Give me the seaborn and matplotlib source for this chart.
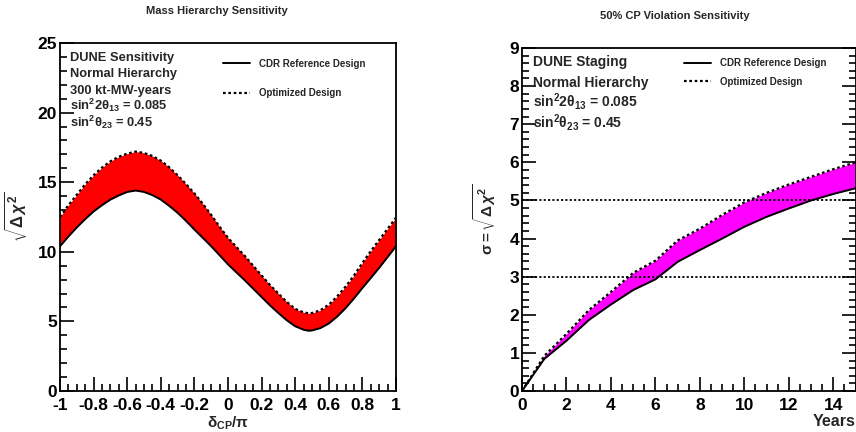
import numpy as np
import pandas as pd
import matplotlib
matplotlib.use("Agg")
import matplotlib.pyplot as plt
from matplotlib.ticker import MultipleLocator
import seaborn as sns

# ---------------- data ----------------
dcp = [-1.0, -0.95, -0.9, -0.85, -0.8, -0.75, -0.7, -0.65, -0.6, -0.55, -0.5, -0.45,
       -0.4, -0.35, -0.3, -0.25, -0.2, -0.15, -0.1, -0.05, 0.0, 0.05, 0.1, 0.15,
       0.2, 0.25, 0.3, 0.35, 0.4, 0.45, 0.48, 0.5, 0.55, 0.6, 0.65, 0.7, 0.75,
       0.8, 0.85, 0.9, 0.95, 1.0]
mh_cdr = [10.4, 11.1, 11.75, 12.35, 12.9, 13.35, 13.75, 14.05, 14.3, 14.4, 14.3, 14.07,
          13.75, 13.3, 12.8, 12.22, 11.6, 11.0, 10.4, 9.75, 9.1, 8.52, 7.95, 7.35,
          6.75, 6.15, 5.6, 5.08, 4.65, 4.4, 4.33, 4.35, 4.52, 4.85, 5.35, 5.95, 6.65,
          7.4, 8.12, 8.85, 9.62, 10.4]
mh_opt = [12.5, 13.35, 14.1, 14.85, 15.5, 16.05, 16.5, 16.83, 17.05, 17.2, 17.1, 16.88,
          16.55, 16.07, 15.5, 14.87, 14.2, 13.45, 12.65, 11.8, 11.0, 10.35, 9.7, 9.0,
          8.3, 7.62, 7.0, 6.4, 5.9, 5.65, 5.58, 5.6, 5.8, 6.2, 6.8, 7.5, 8.3,
          9.2, 10.05, 10.85, 11.65, 12.45]

years = [0, 1, 2, 3, 4, 5, 6, 7, 8, 9, 10, 11, 12, 13, 14, 15]
cp_cdr = [0.0, 0.84, 1.32, 1.86, 2.27, 2.65, 2.93, 3.39, 3.70, 4.0, 4.31, 4.57, 4.79, 5.0, 5.17, 5.32]
cp_opt = [0.0, 0.92, 1.5, 2.12, 2.6, 3.1, 3.42, 3.95, 4.26, 4.62, 4.95, 5.2, 5.42, 5.62, 5.82, 6.0]
sigma_lines = [3, 5]

mh_info = ["DUNE Sensitivity", "Normal Hierarchy", "300 kt-MW-years",
           r"$\mathbf{sin^{2}2\theta_{13}}$ = 0.085", r"$\mathbf{sin^{2}\theta_{23}}$ = 0.45"]
cp_info = ["DUNE Staging", "Normal Hierarchy",
           r"$\mathbf{sin^{2}2\theta_{13}}$ = 0.085", r"$\mathbf{sin^{2}\theta_{23}}$ = 0.45"]
legend_labels = ["CDR Reference Design", "Optimized Design"]
mh_xticklabels = ["-1", "-0.8", "-0.6", "-0.4", "-0.2", "0", "0.2", "0.4", "0.6", "0.8", "1"]

# ---------------- style ----------------
sns.set_theme(style="ticks")
plt.rcParams["font.family"] = ["Liberation Sans", "DejaVu Sans"]
plt.rcParams["font.weight"] = "bold"
plt.rcParams["mathtext.fontset"] = "custom"
plt.rcParams["mathtext.rm"] = "Liberation Sans:bold"
plt.rcParams["mathtext.bf"] = "Liberation Sans:bold"
plt.rcParams["mathtext.it"] = "Liberation Sans:italic"
plt.rcParams["mathtext.sf"] = "Liberation Sans"

fig = plt.figure(figsize=(8.56, 4.32), dpi=100)
ax1 = fig.add_axes([0.0701, 0.0949, 0.3925, 0.8056])
ax2 = fig.add_axes([0.6098, 0.0949, 0.3897, 0.7940])

dotted = (0, (1.2, 1.2))

# ---------------- left panel ----------------
df1 = pd.DataFrame({"x": dcp, "cdr": mh_cdr, "opt": mh_opt})
ax1.fill_between(df1["x"], df1["cdr"], df1["opt"], color="#ff0000", lw=0)
sns.lineplot(data=df1, x="x", y="cdr", ax=ax1, color="black", lw=1.4, label=legend_labels[0])
sns.lineplot(data=df1, x="x", y="opt", ax=ax1, color="black", lw=1.6, linestyle=dotted,
             label=legend_labels[1])
ax1.set_xlim(-1, 1)
ax1.set_ylim(0, 25)
ax1.set_xticks(np.round(np.arange(-1, 1.01, 0.2), 1))
ax1.set_xticklabels(mh_xticklabels)
ax1.xaxis.set_minor_locator(MultipleLocator(0.05))
ax1.yaxis.set_major_locator(MultipleLocator(5))
ax1.yaxis.set_minor_locator(MultipleLocator(1))
ax1.set_xlabel(r"$\mathbf{\delta_{CP}/\pi}$", fontsize=11, labelpad=1)
ax1.set_ylabel(r"$\sqrt{\Delta\,\chi^{2}}$", fontsize=12, labelpad=6)
ax1.set_title("Mass Hierarchy Sensitivity", fontsize=8, fontweight="bold", pad=21, x=0.467)
for i, t in enumerate(mh_info):
    ax1.text(0.03, 0.949 - i * 0.0474, t, transform=ax1.transAxes, fontsize=9.3,
             fontweight="bold", va="baseline", ha="left")
leg1 = ax1.legend(loc="upper left", bbox_to_anchor=(0.458, 0.98), frameon=False,
                  fontsize=7, handlelength=2.8, labelspacing=2.0, handletextpad=0.9)
for txt in leg1.get_texts():
    txt.set_fontweight("bold")

# ---------------- right panel ----------------
df2 = pd.DataFrame({"x": years, "cdr": cp_cdr, "opt": cp_opt})
ax2.fill_between(df2["x"], df2["cdr"], df2["opt"], color="#ff00ff", lw=0)
sns.lineplot(data=df2, x="x", y="cdr", ax=ax2, color="black", lw=1.4, label=legend_labels[0])
sns.lineplot(data=df2, x="x", y="opt", ax=ax2, color="black", lw=1.6, linestyle=dotted,
             label=legend_labels[1])
for s in sigma_lines:
    ax2.axhline(s, color="black", lw=1.3, linestyle=dotted)
ax2.set_xlim(0, 15)
ax2.set_ylim(0, 9)
ax2.xaxis.set_major_locator(MultipleLocator(2))
ax2.xaxis.set_minor_locator(MultipleLocator(0.5))
ax2.yaxis.set_major_locator(MultipleLocator(1))
ax2.yaxis.set_minor_locator(MultipleLocator(0.2))
ax2.set_xlabel("Years", fontsize=11.5, fontweight="bold", loc="right", labelpad=1)
ax2.set_ylabel(r"$\mathrm{\sigma} = \sqrt{\Delta\,\chi^{2}}$", fontsize=11, labelpad=8)
ax2.set_title("50% CP Violation Sensitivity", fontsize=8, fontweight="bold", pad=21, x=0.458)
for i, t in enumerate(cp_info):
    ax2.text(0.032, 0.9475 - i * 0.0598, t, transform=ax2.transAxes, fontsize=10,
             fontweight="bold", va="baseline", ha="left")
leg2 = ax2.legend(loc="upper left", bbox_to_anchor=(0.46, 0.995), frameon=False,
                  fontsize=7, handlelength=2.8, labelspacing=0.85, handletextpad=0.9)
for txt in leg2.get_texts():
    txt.set_fontweight("bold")

# ---------------- axes styling ----------------
for ax in (ax1, ax2):
    for sp in ax.spines.values():
        sp.set_visible(True)
        sp.set_linewidth(1.3)
        sp.set_color("black")
    ax.tick_params(which="both", direction="in", colors="black", width=1.2,
                   labelsize=12.5)
    ax.tick_params(axis="y", which="both", pad=2)
    ax.tick_params(axis="x", which="both", pad=5)
    ax.tick_params(which="major", length=10)
    ax.tick_params(which="minor", length=5)
    for lab in ax.get_xticklabels() + ax.get_yticklabels():
        lab.set_fontweight("bold")
    ax.set_facecolor("white")
ax2.tick_params(which="both", right=True)

fig.savefig("out.png", dpi=100, facecolor="white")
